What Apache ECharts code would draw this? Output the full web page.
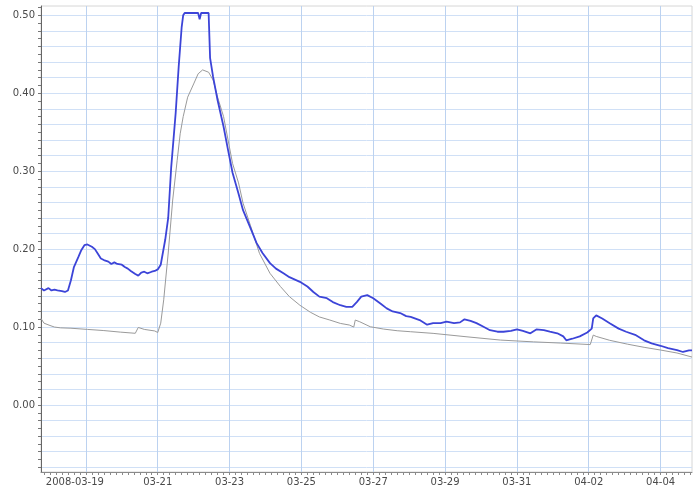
<!DOCTYPE html>
<html>
<head>
<meta charset="utf-8">
<script src="https://cdn.jsdelivr.net/npm/echarts@6/dist/echarts.min.js"></script>
<style>
  html, body { margin: 0; padding: 0; background: #ffffff; }
  #chart { width: 695px; height: 492px; }
</style>
</head>
<body>
<div id="chart"></div>
<script>
// Measured series (sample time, value)
const blueTimes = [
  '2008-03-17 18:00','2008-03-17 20:00','2008-03-17 23:00','2008-03-18 01:00','2008-03-18 03:00',
  '2008-03-18 05:00','2008-03-18 08:00','2008-03-18 10:00','2008-03-18 11:00','2008-03-18 12:00',
  '2008-03-18 14:00','2008-03-18 16:00','2008-03-18 19:00','2008-03-18 21:00','2008-03-18 23:00',
  '2008-03-19 01:00','2008-03-19 04:00','2008-03-19 06:00','2008-03-19 08:00','2008-03-19 10:00',
  '2008-03-19 12:00','2008-03-19 15:00','2008-03-19 17:00','2008-03-19 19:00','2008-03-19 21:00',
  '2008-03-20 00:00','2008-03-20 02:00','2008-03-20 04:00','2008-03-20 06:00','2008-03-20 09:00',
  '2008-03-20 11:00','2008-03-20 13:00','2008-03-20 15:00','2008-03-20 17:00','2008-03-20 20:00',
  '2008-03-20 22:00','2008-03-21 00:00','2008-03-21 02:00','2008-03-21 05:00','2008-03-21 07:00',
  '2008-03-21 09:00','2008-03-21 12:00','2008-03-21 14:00','2008-03-21 16:00','2008-03-21 17:00',
  '2008-03-21 18:00','2008-03-21 22:00','2008-03-22 01:00','2008-03-22 03:00','2008-03-22 04:00',
  '2008-03-22 05:00','2008-03-22 10:00','2008-03-22 11:00','2008-03-22 13:00','2008-03-22 16:00',
  '2008-03-22 20:00','2008-03-22 23:00','2008-03-23 02:00','2008-03-23 06:00','2008-03-23 09:00',
  '2008-03-23 14:00','2008-03-23 18:00','2008-03-23 22:00','2008-03-24 03:00','2008-03-24 07:00',
  '2008-03-24 12:00','2008-03-24 16:00','2008-03-24 23:00','2008-03-25 04:00','2008-03-25 08:00',
  '2008-03-25 12:00','2008-03-25 17:00','2008-03-25 21:00','2008-03-26 02:00','2008-03-26 06:00',
  '2008-03-26 10:00','2008-03-26 13:00','2008-03-26 16:00','2008-03-26 20:00','2008-03-27 00:00',
  '2008-03-27 05:00','2008-03-27 09:00','2008-03-27 13:00','2008-03-27 18:00','2008-03-27 22:00',
  '2008-03-28 01:00','2008-03-28 07:00','2008-03-28 12:00','2008-03-28 16:00','2008-03-28 21:00',
  '2008-03-29 01:00','2008-03-29 06:00','2008-03-29 10:00','2008-03-29 13:00','2008-03-29 17:00',
  '2008-03-29 21:00','2008-03-30 02:00','2008-03-30 06:00','2008-03-30 11:00','2008-03-30 15:00',
  '2008-03-30 20:00','2008-03-31 00:00','2008-03-31 04:00','2008-03-31 09:00','2008-03-31 13:00',
  '2008-03-31 18:00','2008-03-31 22:00','2008-04-01 03:00','2008-04-01 07:00','2008-04-01 09:00',
  '2008-04-01 13:00','2008-04-01 18:00','2008-04-01 23:00','2008-04-02 02:00','2008-04-02 03:00',
  '2008-04-02 05:00','2008-04-02 09:00','2008-04-02 14:00','2008-04-02 20:00','2008-04-03 01:00',
  '2008-04-03 07:00','2008-04-03 13:00','2008-04-03 18:00','2008-04-04 00:00','2008-04-04 05:00',
  '2008-04-04 11:00','2008-04-04 15:00','2008-04-04 19:00','2008-04-04 21:00'
];
const blueValues = [
  0.150, 0.147, 0.150, 0.147, 0.148,
  0.147, 0.146, 0.145, 0.143, 0.147,
  0.160, 0.177, 0.190, 0.199, 0.205,
  0.206, 0.203, 0.200, 0.194, 0.188,
  0.186, 0.184, 0.181, 0.183, 0.181,
  0.180, 0.177, 0.175, 0.172, 0.168,
  0.166, 0.170, 0.171, 0.169, 0.171,
  0.172, 0.174, 0.180, 0.212, 0.240,
  0.305, 0.375, 0.434, 0.485, 0.500,
  0.503, 0.503, 0.503, 0.503, 0.495,
  0.503, 0.503, 0.445, 0.421, 0.391,
  0.357, 0.327, 0.298, 0.271, 0.250,
  0.227, 0.208, 0.195, 0.182, 0.175,
  0.169, 0.164, 0.158, 0.152, 0.145,
  0.139, 0.137, 0.132, 0.128, 0.126,
  0.126, 0.132, 0.139, 0.141, 0.137,
  0.130, 0.124, 0.120, 0.118, 0.114,
  0.113, 0.109, 0.103, 0.105, 0.105,
  0.107, 0.105, 0.106, 0.110, 0.108,
  0.105, 0.100, 0.096, 0.094, 0.094,
  0.095, 0.097, 0.095, 0.092, 0.097,
  0.096, 0.094, 0.092, 0.088, 0.083,
  0.085, 0.088, 0.093, 0.098, 0.111,
  0.115, 0.111, 0.105, 0.098, 0.094,
  0.090, 0.083, 0.079, 0.076, 0.073,
  0.0705, 0.068, 0.070, 0.070
];

const grayTimes = [
  '2008-03-17 18:00','2008-03-17 20:00','2008-03-18 00:00','2008-03-18 03:00','2008-03-18 07:00',
  '2008-03-18 14:00','2008-03-19 01:00','2008-03-19 12:00','2008-03-19 23:00','2008-03-20 09:00',
  '2008-03-20 10:00','2008-03-20 11:00','2008-03-20 15:00','2008-03-20 22:00','2008-03-21 00:00',
  '2008-03-21 01:00','2008-03-21 02:00','2008-03-21 04:00','2008-03-21 07:00','2008-03-21 10:00',
  '2008-03-21 13:00','2008-03-21 15:00','2008-03-21 17:00','2008-03-21 20:00','2008-03-22 00:00',
  '2008-03-22 03:00','2008-03-22 06:00','2008-03-22 10:00','2008-03-22 13:00','2008-03-22 16:00',
  '2008-03-22 20:00','2008-03-22 23:00','2008-03-23 02:00','2008-03-23 06:00','2008-03-23 09:00',
  '2008-03-23 14:00','2008-03-23 20:00','2008-03-24 03:00','2008-03-24 10:00','2008-03-24 16:00',
  '2008-03-24 23:00','2008-03-25 06:00','2008-03-25 12:00','2008-03-25 19:00','2008-03-26 02:00',
  '2008-03-26 08:00','2008-03-26 11:00','2008-03-26 12:00','2008-03-26 15:00','2008-03-26 22:00',
  '2008-03-27 07:00','2008-03-27 16:00','2008-03-28 01:00','2008-03-28 16:00','2008-03-29 14:00',
  '2008-03-30 13:00','2008-03-31 11:00','2008-04-01 05:00','2008-04-02 01:00','2008-04-02 03:00',
  '2008-04-02 05:00','2008-04-02 14:00','2008-04-03 02:00','2008-04-03 13:00','2008-04-04 00:00',
  '2008-04-04 11:00','2008-04-04 21:00'
];
const grayValues = [
  0.111, 0.105, 0.102, 0.100, 0.099,
  0.0985, 0.097, 0.0955, 0.0935, 0.092,
  0.0915, 0.0995, 0.097, 0.095, 0.093,
  0.094, 0.105, 0.135, 0.195, 0.263,
  0.314, 0.348, 0.370, 0.395, 0.412,
  0.425, 0.430, 0.427, 0.417, 0.395,
  0.370, 0.340, 0.310, 0.285, 0.259,
  0.230, 0.1945, 0.169, 0.152, 0.139,
  0.128, 0.119, 0.113, 0.109, 0.1047,
  0.1026, 0.100, 0.109, 0.1068, 0.1004,
  0.0974, 0.0953, 0.094, 0.0919, 0.0876,
  0.0833, 0.081, 0.0795, 0.0775, 0.0897,
  0.088, 0.083, 0.078, 0.074, 0.0705,
  0.0667, 0.0615
];

// Axis ticks
const dateTicks = [
  '2008-03-19','2008-03-21','2008-03-23','2008-03-25','2008-03-27',
  '2008-03-29','2008-03-31','2008-04-02','2008-04-04'
];
const valueTicks = [0.0, 0.1, 0.2, 0.3, 0.4, 0.5];

// Visible window
const xStart = '2008-03-17 18:00';
const xEnd = '2008-04-04 21:00';
const yMin = -0.086;
const yMax = 0.512;

function toTime(s) {
  const m = s.match(/(\d+)-(\d+)-(\d+)(?:\s+(\d+):(\d+))?/);
  return new Date(+m[1], +m[2] - 1, +m[3], m[4] ? +m[4] : 0, m[5] ? +m[5] : 0).getTime();
}
function pad(n) { return (n < 10 ? '0' : '') + n; }

const xMin = toTime(xStart);
const xMax = toTime(xEnd);
const HOUR = 3600 * 1000;

// tick positions: labelled days, 4-hour minor marks, 0.01 / 0.02 value steps
const dayTickTimes = dateTicks.map(toTime);
const minorTimes = [];
for (let t = toTime('2008-03-17 20:00'); t <= xMax; t += 4 * HOUR) minorTimes.push(t);
const yTickSteps = [];
for (let i = -8; i <= 51; i++) yTickSteps.push(+(i * 0.01).toFixed(2));
const yGridSteps = [];
for (let i = -4; i <= 25; i++) yGridSteps.push(+(i * 0.02).toFixed(2));

const blueData = blueTimes.map((t, i) => [toTime(t), blueValues[i]]);
const grayData = grayTimes.map((t, i) => [toTime(t), grayValues[i]]);

const labelFont = { fontFamily: 'DejaVu Sans', fontSize: 10, color: '#4a4a4a' };
const gridBlueH = '#d0e0f6';
const gridBlueV = '#bcd2f0';

const chart = echarts.init(document.getElementById('chart'), null, { renderer: 'canvas' });
chart.setOption({
  animation: false,
  backgroundColor: '#ffffff',
  grid: {
    left: 41, right: 3, top: 6, bottom: 20,
    show: true, borderColor: '#d6d6d6', borderWidth: 1, backgroundColor: 'transparent'
  },
  xAxis: [
    {
      type: 'value', min: xMin, max: xMax, scale: true,
      axisLine: { show: true, onZero: false, lineStyle: { color: '#8a8a8a', width: 1 } },
      axisTick: { show: true, customValues: minorTimes, length: 3, lineStyle: { color: '#8a8a8a' } },
      axisLabel: {
        show: true, customValues: dayTickTimes, margin: 5, ...labelFont,
        formatter: function (v) {
          const d = new Date(v);
          const md = pad(d.getMonth() + 1) + '-' + pad(d.getDate());
          if (v === dayTickTimes[0]) return '{first|' + d.getFullYear() + '-' + md + '}';
          return md;
        },
        rich: { first: { ...labelFont, padding: [0, 22, 0, 0] } }
      },
      splitLine: { show: false }
    },
    {
      type: 'value', min: xMin, max: xMax, scale: true, position: 'bottom',
      axisLine: { show: false, onZero: false },
      axisTick: { show: false, customValues: dayTickTimes },
      axisLabel: { show: false, customValues: dayTickTimes },
      splitLine: { show: true, lineStyle: { color: gridBlueV, width: 1 } }
    }
  ],
  yAxis: [
    {
      type: 'value', min: yMin, max: yMax,
      axisLine: { show: true, onZero: false, lineStyle: { color: '#666666', width: 1 } },
      axisTick: { show: true, customValues: yTickSteps, length: 3, lineStyle: { color: '#777777' } },
      axisLabel: {
        show: true, customValues: valueTicks, margin: 6, ...labelFont,
        formatter: v => v.toFixed(2)
      },
      splitLine: { show: false }
    },
    {
      type: 'value', min: yMin, max: yMax, position: 'left',
      axisLine: { show: false, onZero: false },
      axisTick: { show: false, customValues: yGridSteps },
      axisLabel: { show: false, customValues: yGridSteps },
      splitLine: { show: true, lineStyle: { color: gridBlueH, width: 1 } }
    }
  ],
  series: [
    {
      name: 'gray', type: 'line', xAxisIndex: 0, yAxisIndex: 0,
      data: grayData, showSymbol: false, smooth: false,
      lineStyle: { color: '#9a9a9a', width: 1 }, z: 2
    },
    {
      name: 'blue', type: 'line', xAxisIndex: 0, yAxisIndex: 0,
      data: blueData, showSymbol: false, smooth: false,
      lineStyle: { color: '#3c44d8', width: 1.8 }, z: 3
    }
  ]
});
</script>
</body>
</html>
